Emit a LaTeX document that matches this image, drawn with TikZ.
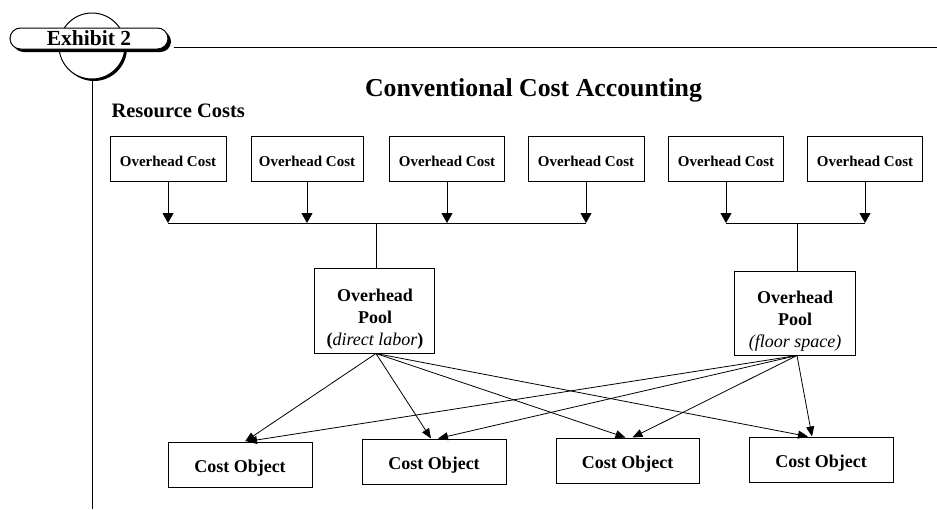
\documentclass[tikz,border=0pt]{standalone}
\usepackage{fontspec}
\setmainfont{Liberation Serif}
\usetikzlibrary{arrows.meta,shapes.misc,shadows}

\begin{document}
\begin{tikzpicture}[x=1pt,y=-1pt,line width=1pt,
  costbox/.style={draw,line width=1pt,inner sep=0pt,text height=15pt,text depth=0pt,
    minimum height=45pt,font=\fontsize{15}{18}\selectfont\bfseries},
  objbox/.style={draw,line width=1pt,inner sep=0pt,text height=15pt,text depth=0pt,
    minimum height=45pt,minimum width=144pt,font=\fontsize{18}{22}\selectfont\bfseries},
  poolbox/.style={draw,line width=1pt,inner sep=0pt,minimum width=120pt,minimum height=85pt},
  poolline/.style={anchor=base,inner sep=0pt,font=\fontsize{18}{22}\selectfont\bfseries},
  droparrow/.style={-{Triangle[width=11pt,length=10pt]},line width=1pt},
  fanarrow/.style={-{Triangle[width=8pt,length=10pt]},line width=0.8pt},
  blackshadow/.style={general shadow={fill=black,shadow xshift=#1,shadow yshift=-#1}}]
\useasboundingbox (0,0) rectangle (937,509);

% exhibit badge: disc behind a rounded tab
\node[circle,draw,fill=white,minimum size=66pt,inner sep=0pt,blackshadow=2pt] (ring) at (92,46) {};
\node[rounded rectangle,draw,fill=white,minimum width=158pt,minimum height=21pt,inner sep=0pt,
  text height=14.4pt,text depth=0pt,blackshadow=3pt,
  font=\fontsize{21.5}{24}\selectfont\bfseries] (badge) at (89,38.5) {Exhibit 2};
\coordinate (ruleend) at (937,47);
\coordinate (margin) at (92,509);
\draw ([xshift=5pt]badge.east |- ruleend) -- (ruleend);
\draw (ring.south) -- (margin);

% headings
\node[anchor=base,inner sep=0pt,font=\fontsize{25.8}{30}\selectfont\bfseries] (title) at (533.5,96) {Conventional Cost Accounting};
\node[anchor=base west,inner sep=0pt,font=\fontsize{20.5}{24}\selectfont\bfseries] (resources) at (111,117) {Resource Costs};

% resource cost boxes
\node[costbox,minimum width=116pt] (oc1) at (168,158.5) {Overhead Cost};
\node[costbox,minimum width=112pt] (oc2) at (307,158.5) {Overhead Cost};
\node[costbox,minimum width=115pt] (oc3) at (447,158.5) {Overhead Cost};
\node[costbox,minimum width=116pt] (oc4) at (586,158.5) {Overhead Cost};
\node[costbox,minimum width=115pt] (oc5) at (726,158.5) {Overhead Cost};
\node[costbox,minimum width=115pt] (oc6) at (865,158.5) {Overhead Cost};

% collecting bars
\coordinate (bar1) at (376,223);
\coordinate (bar2) at (797,223);
\foreach \n in {oc1,oc2,oc3,oc4}{\draw[droparrow] (\n) -- (\n |- bar1);}
\foreach \n in {oc5,oc6}{\draw[droparrow] (\n) -- (\n |- bar2);}
\draw (oc1 |- bar1) -- (oc4 |- bar1);
\draw (oc5 |- bar2) -- (oc6 |- bar2);

% overhead pools
\node[poolbox] (pool1) at (374,310.5) {};
\node[poolbox,minimum width=121pt,minimum height=84pt] (pool2) at (794.5,313) {};
\draw (bar1) -- (bar1 |- pool1.north);
\draw (bar2) -- (bar2 |- pool2.north);

\node[poolline] (p1a) at (375,301) {Overhead};
\node[poolline] (p1b) at (375,323) {Pool};
\node[poolline] (p1c) at (375,345) {(\textit{\mdseries direct labor})};
\node[poolline] (p2a) at (795,303) {Overhead};
\node[poolline] (p2b) at (795,325) {Pool};
\node[poolline] (p2c) at (795,347) {\mdseries\itshape (floor space)};

% cost objects
\node[objbox] (co1) at (240,464.5) {Cost Object};
\node[objbox] (co2) at (434,461.5) {Cost Object};
\node[objbox,minimum width=143pt] (co3) at (627.5,460.5) {Cost Object};
\node[objbox] (co4) at (821,459.5) {Cost Object};

% allocation arrows
\coordinate (src1) at ([xshift=2pt]pool1.south);
\coordinate (src2) at ([xshift=2.5pt]pool2.south);
\draw[fanarrow] (src1) -- ([xshift=5pt]co1.north);
\draw[fanarrow] (src1) -- ([xshift=-3pt]co2.north);
\draw[fanarrow] (src1) -- ([xshift=-2pt]co3.north);
\draw[fanarrow] (src1) -- ([xshift=-13pt]co4.north);
\draw[fanarrow] (src2) -- ([xshift=7pt]co1.north);
\draw[fanarrow] (src2) -- ([xshift=4pt]co2.north);
\draw[fanarrow] (src2) -- ([xshift=5pt]co3.north);
\draw[fanarrow] (src2) -- ([xshift=-9pt]co4.north);
\end{tikzpicture}
\end{document}
